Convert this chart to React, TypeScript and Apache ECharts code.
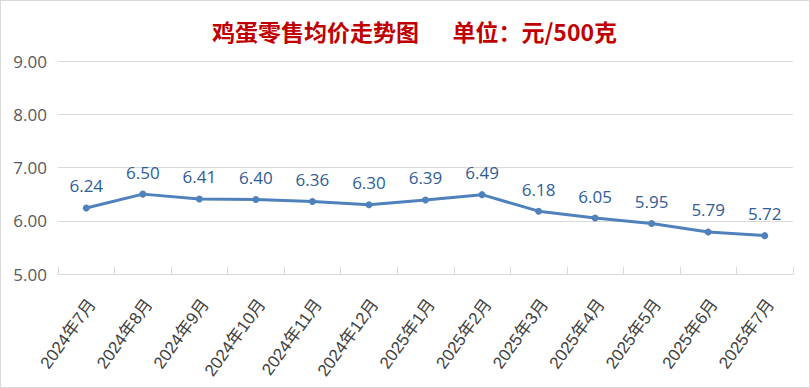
import React, { useEffect, useRef } from "react";
import * as echarts from "echarts";

const categories = [
  "2024年7月", "2024年8月", "2024年9月", "2024年10月", "2024年11月", "2024年12月",
  "2025年1月", "2025年2月", "2025年3月", "2025年4月", "2025年5月", "2025年6月", "2025年7月",
];
const prices = [6.24, 6.5, 6.41, 6.4, 6.36, 6.3, 6.39, 6.49, 6.18, 6.05, 5.95, 5.79, 5.72];
const titleText = "鸡蛋零售均价走势图　  单位：元/500克";

const FONT = '"Open Sans", "Noto Sans CJK SC", sans-serif';

export default function App() {
  const ref = useRef<HTMLDivElement>(null);
  useEffect(() => {
    if (!ref.current) return;
    const chart = echarts.init(ref.current, undefined, { renderer: "svg" });
    chart.setOption({
      animation: false,
      backgroundColor: "#ffffff",
      title: {
        text: titleText,
        left: 206,
        top: 13,
        textStyle: {
          color: "#c00000",
          fontSize: 23,
          fontWeight: "bold",
          fontFamily: '"Noto Sans CJK SC", sans-serif',
        },
      },
      grid: { left: 57, right: 16, top: 60, bottom: 113 },
      xAxis: {
        type: "category",
        data: categories,
        boundaryGap: true,
        axisLine: { lineStyle: { color: "#d9d9d9", width: 1 } },
        axisTick: { show: true, inside: true, length: 7, lineStyle: { color: "#d9d9d9" } },
        axisLabel: {
          rotate: 54,
          interval: 0,
          margin: 35,
          padding: [0, -10, 0, 0],
          color: "#404040",
          fontSize: 17,
          fontFamily: '"Liberation Sans", "Noto Sans CJK SC", sans-serif',
        },
      },
      yAxis: {
        type: "value",
        min: 5,
        max: 9,
        interval: 1,
        axisLine: { show: false },
        axisTick: { show: false },
        splitLine: { lineStyle: { color: "#d9d9d9", width: 1 } },
        axisLabel: {
          formatter: (v: number) => v.toFixed(2),
          color: "#595959",
          fontSize: 17,
          margin: 11,
          fontFamily: FONT,
        },
      },
      series: [
        {
          type: "line",
          data: prices,
          symbol: "circle",
          symbolSize: 7,
          lineStyle: { color: "#4f81bd", width: 3 },
          itemStyle: { color: "#4f81bd" },
          label: {
            show: true,
            position: "top",
            distance: 10,
            formatter: (p: any) => Number(p.value).toFixed(2),
            color: "#2f5d96",
            fontSize: 17,
            fontFamily: FONT,
          },
        },
      ],
    });
    return () => chart.dispose();
  }, []);
  return (
    <div
      ref={ref}
      style={{
        position: "fixed",
        left: 0,
        top: 0,
        width: 810,
        height: 388,
        boxSizing: "border-box",
        border: "1px solid #d9d9d9",
        background: "#fff",
      }}
    />
  );
}
